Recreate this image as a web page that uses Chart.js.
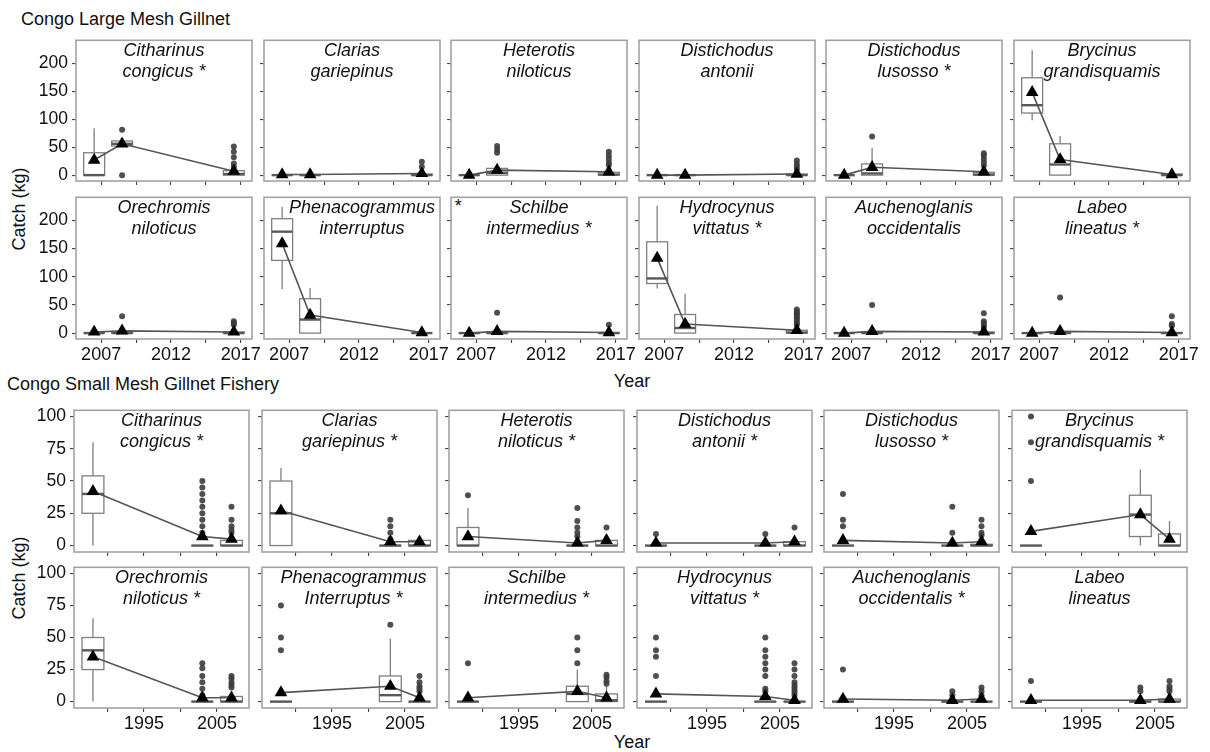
<!doctype html>
<html lang="en">
<head>
  <meta charset="utf-8">
  <title>Congo gillnet catch by year</title>
  <script src="https://cdn.jsdelivr.net/npm/chart.js"></script>
  <style>
    body { margin: 0; background: #fff; font-family: "Liberation Sans", Arial, sans-serif; color: #111; }
    #wrap { position: relative; width: 1210px; height: 752px; overflow: hidden; }
    #wrap canvas { position: absolute; }
    .txt { position: absolute; font-size: 18px; line-height: 18px; white-space: nowrap; }
    .sp { position: absolute; font-size: 18px; font-style: italic; text-align: center; line-height: 20.7px; white-space: nowrap; width: 220px; }
    .ylab { position: absolute; font-size: 18px; line-height: 18px; width: 120px; height: 18px; text-align: center; transform: rotate(-90deg); }
  </style>
</head>
<body>
<div id="wrap">
  <div class="txt" style="left:21px;top:10px">Congo Large Mesh Gillnet</div>
  <div class="txt" style="left:7px;top:375px">Congo Small Mesh Gillnet Fishery</div>
  <div class="txt" style="left:600px;width:64px;text-align:center;top:372px">Year</div>
  <div class="txt" style="left:600px;width:64px;text-align:center;top:733px">Year</div>
  <div class="ylab" style="left:-41px;top:200px">Catch (kg)</div>
  <div class="ylab" style="left:-41px;top:569px">Catch (kg)</div>
  <div class="txt" style="left:454px;top:197px;font-style:italic">*</div>
</div>
<script>
  // ---- data: Congo Large Mesh Gillnet (sampling years 2006, 2008, 2016) ----
  var largeYears = [2006.5, 2008.5, 2016.5];
  var largeXTicks = [2007, 2009.5, 2012, 2014.5, 2017];
  var largeXLabels = [2007, 2012, 2017];
  var largeYTicks = [0, 50, 100, 150, 200];
  var largeSpecies = [
    ["Citharinus", "congicus *"], ["Clarias", "gariepinus"], ["Heterotis", "niloticus"],
    ["Distichodus", "antonii"], ["Distichodus", "lusosso *"], ["Brycinus", "grandisquamis"],
    ["Orechromis", "niloticus"], ["Phenacogrammus", "interruptus"], ["Schilbe", "intermedius *"],
    ["Hydrocynus", "vittatus *"], ["Auchenoglanis", "occidentalis"], ["Labeo", "lineatus *"]
  ];
  var largeMeans = [
    [27, 56, 7], [1, 1, 3], [0, 9, 6], [0, 0, 2], [0, 14, 6], [148, 28, 1],
    [2, 4, 2], [159, 32, 1], [0, 3, 1], [133, 16, 5], [0, 3, 2], [0, 3, 1]
  ];
  // [low whisker, q1, median, q3, high whisker]
  var largeBoxes = [
    [[0, 0, 0, 40, 84], [50, 52, 56, 61, 64], [0, 0, 2, 8, 14]],
    [[0, 0, 0, 0, 0], [0, 0, 0, 0, 0], [0, 0, 0, 2, 5]],
    [[0, 0, 0, 0, 0], [0, 0, 4, 12, 12], [0, 0, 1, 5, 12]],
    [[0, 0, 0, 0, 0], [0, 0, 0, 0, 0], [0, 0, 0, 2, 4]],
    [[0, 0, 0, 0, 0], [0, 0, 3, 20, 49], [0, 0, 1, 5, 10]],
    [[98, 111, 125, 174, 223], [0, 0, 19, 56, 70], [0, 0, 0, 2, 3]],
    [[0, 0, 0, 0, 0], [0, 0, 0, 1, 2], [0, 0, 0, 2, 4]],
    [[78, 129, 180, 203, 224], [0, 0, 24, 61, 80], [0, 0, 0, 0, 0]],
    [[0, 0, 0, 0, 0], [0, 0, 0, 2, 4], [0, 0, 0, 1, 2]],
    [[79, 88, 97, 162, 226], [0, 0, 9, 33, 70], [0, 0, 1, 5, 10]],
    [[0, 0, 0, 0, 0], [0, 0, 0, 2, 4], [0, 0, 0, 2, 4]],
    [[0, 0, 0, 0, 0], [0, 0, 0, 2, 4], [0, 0, 0, 1, 3]]
  ];
  var largeOutliers = [
    [[], [81, 0], [51, 42, 32, 21, 15]],
    [[], [], [24, 15]],
    [[], [52, 46, 40], [42, 35, 29, 22, 18]],
    [[], [], [26, 20, 15, 10]],
    [[], [69], [39, 35, 29, 23, 17]],
    [[], [], []],
    [[], [30], [21, 18, 15]],
    [[], [], []],
    [[], [36], [15]],
    [[], [], [42, 38, 35, 32, 29, 26, 22, 18, 15]],
    [[], [50], [35, 21, 18, 14, 10]],
    [[], [63], [30, 16, 13]]
  ];

  // ---- data: Congo Small Mesh Gillnet Fishery (sampling years 1988, 2003, 2007) ----
  var smallYears = [1988, 2003, 2007];
  var smallXTicks = [1990, 1995, 2000, 2005];
  var smallXLabels = [1995, 2005];
  var smallYTicks = [0, 25, 50, 75, 100];
  var smallSpecies = [
    ["Citharinus", "congicus *"], ["Clarias", "gariepinus *"], ["Heterotis", "niloticus *"],
    ["Distichodus", "antonii *"], ["Distichodus", "lusosso *"], ["Brycinus", "grandisquamis *"],
    ["Orechromis", "niloticus *"], ["Phenacogrammus", "Interruptus *"], ["Schilbe", "intermedius *"],
    ["Hydrocynus", "vittatus *"], ["Auchenoglanis", "occidentalis *"], ["Labeo", "lineatus"]
  ];
  var smallMeans = [
    [42, 7, 5], [27, 3, 3], [7, 2, 4], [2, 2, 3], [4, 2, 3], [11, 24, 5],
    [35, 3, 3], [7, 12, 3], [3, 8, 3], [6, 4, 1], [2, 1, 2], [1, 1, 2]
  ];
  var smallBoxes = [
    [[0, 25, 40, 54, 80], [0, 0, 0, 0, 0], [0, 0, 0, 4, 8]],
    [[0, 0, 25, 50, 60], [0, 0, 0, 0, 0], [0, 0, 0, 4, 6]],
    [[0, 0, 0, 14, 29], [0, 0, 0, 0, 0], [0, 0, 0, 4, 8]],
    [[0, 0, 0, 0, 0], [0, 0, 0, 0, 0], [0, 0, 0, 3, 6]],
    [[0, 0, 0, 0, 0], [0, 0, 0, 0, 0], [0, 0, 0, 1, 3]],
    [[0, 0, 0, 0, 0], [0, 7, 24, 39, 59], [0, 0, 0, 9, 19]],
    [[0, 25, 40, 50, 65], [0, 0, 0, 0, 0], [0, 0, 0, 4, 8]],
    [[0, 0, 0, 0, 0], [0, 0, 5, 20, 49], [0, 0, 0, 0, 0]],
    [[0, 0, 0, 0, 0], [0, 0, 6, 12, 25], [0, 0, 1, 6, 12]],
    [[0, 0, 0, 0, 0], [0, 0, 0, 0, 0], [0, 0, 0, 0, 0]],
    [[0, 0, 0, 0, 0], [0, 0, 0, 0, 0], [0, 0, 0, 0, 0]],
    [[0, 0, 0, 0, 0], [0, 0, 0, 0, 0], [0, 0, 0, 2, 4]]
  ];
  var smallOutliers = [
    [[], [50, 45, 40, 35, 30, 25, 20, 15, 10], [30, 20, 15, 12, 10]],
    [[], [20, 15, 10, 5], []],
    [[39], [29, 19, 14, 10, 7], [14]],
    [[9], [9], [14]],
    [[40, 20, 15], [30, 10], [20, 15, 10, 8]],
    [[100, 80, 50], [], []],
    [[], [30, 26, 20, 15, 10, 5], [20, 18, 15, 13, 11]],
    [[75, 50, 40], [60], [20, 15, 12, 10, 8]],
    [[30], [50, 40, 30], [21, 19, 16, 14]],
    [[50, 40, 35, 20], [50, 40, 35, 30, 25, 20, 10, 8], [30, 25, 20, 15, 13, 11, 9, 7, 5]],
    [[25], [8, 5], [11, 8, 5]],
    [[16], [11, 8], [16, 12, 10, 8]]
  ];

  // ---- layout ----
  var FONT = '"Liberation Sans", Arial, sans-serif';
  var L = 50, T = 4, R = 16, B = 30;   // canvas margins round each panel

  var boxPlugin = {
    id: 'boxes',
    beforeDatasetsDraw: function(chart, args, o) {
      var ctx = chart.ctx, x = chart.scales.x, y = chart.scales.y;
      ctx.save();
      o.boxes.forEach(function(b, i) {
        var xc = x.getPixelForValue(o.years[i]);
        var x0 = x.getPixelForValue(o.years[i] - o.width / 2);
        var x1 = x.getPixelForValue(o.years[i] + o.width / 2);
        var p = b.map(function(v) { return y.getPixelForValue(v); });
        ctx.strokeStyle = '#7f7f7f';
        ctx.lineWidth = 1.3;
        ctx.beginPath();
        ctx.moveTo(xc, p[4]); ctx.lineTo(xc, p[3]);
        ctx.moveTo(xc, p[1]); ctx.lineTo(xc, p[0]);
        ctx.stroke();
        ctx.fillStyle = '#fff';
        ctx.fillRect(x0, p[3], x1 - x0, p[1] - p[3]);
        ctx.strokeRect(x0, p[3], x1 - x0, p[1] - p[3]);
        ctx.strokeStyle = '#595959';
        ctx.lineWidth = 2.4;
        ctx.beginPath(); ctx.moveTo(x0, p[2]); ctx.lineTo(x1, p[2]); ctx.stroke();
      });
      ctx.restore();
    },
    afterDatasetsDraw: function(chart) {
      var ctx = chart.ctx, a = chart.chartArea;
      ctx.save();
      ctx.strokeStyle = '#a3a3a3';
      ctx.lineWidth = 1.6;
      ctx.strokeRect(a.left, a.top, a.right - a.left, a.bottom - a.top);
      ctx.restore();
    }
  };

  function makePanel(left, top, w, h, cfg) {
    var wrap = document.getElementById('wrap');
    var cv = document.createElement('canvas');
    cv.width = L + w + R;
    cv.height = T + h + B;
    cv.style.left = (left - L) + 'px';
    cv.style.top = (top - T) + 'px';
    wrap.appendChild(cv);

    var sp = document.createElement('div');
    sp.className = 'sp';
    sp.style.left = (left + w / 2 - 110 + (cfg.nudge || 0)) + 'px';
    sp.style.top = (top + 3) + 'px';
    sp.innerHTML = cfg.title[0] + '<br>' + cfg.title[1];
    wrap.appendChild(sp);

    var outPts = [];
    cfg.outliers.forEach(function(list, i) {
      list.forEach(function(v) { outPts.push({x: cfg.years[i], y: v}); });
    });

    new Chart(cv, {
      type: 'scatter',
      data: {
        datasets: [
          {
            type: 'line',
            data: cfg.years.map(function(yr, i) { return {x: yr, y: cfg.means[i]}; }),
            borderColor: '#555',
            borderWidth: 1.6,
            pointStyle: 'triangle',
            pointRadius: 7.3,
            pointBackgroundColor: '#000',
            pointBorderWidth: 0,
            tension: 0
          },
          {
            data: outPts,
            pointRadius: 3,
            pointBackgroundColor: 'rgba(60,60,60,0.9)',
            pointBorderWidth: 0
          }
        ]
      },
      options: {
        responsive: false,
        animation: false,
        devicePixelRatio: 1,
        layout: {padding: {left: 0, top: T, right: R, bottom: 0}},
        plugins: {
          legend: {display: false},
          tooltip: {enabled: false},
          boxes: {boxes: cfg.boxes, years: cfg.years, width: cfg.boxW}
        },
        scales: {
          x: {
            type: 'linear', min: cfg.xMin, max: cfg.xMax,
            afterBuildTicks: function(s) { s.ticks = cfg.xTicks.map(function(v) { return {value: v}; }); },
            afterFit: function(s) { s.height = B; s.paddingLeft = 0; s.paddingRight = 0; },
            ticks: {
              callback: function(v) { return cfg.showX && cfg.xLabels.indexOf(v) >= 0 ? String(v) : ''; },
              color: '#111', font: {family: FONT, size: 18}, padding: 1, maxRotation: 0, autoSkip: false
            },
            grid: {drawOnChartArea: false, tickLength: 4, color: '#444', lineWidth: 1.1},
            border: {display: false}
          },
          y: {
            min: cfg.yMin, max: cfg.yMax,
            afterBuildTicks: function(s) { s.ticks = cfg.yTicks.map(function(v) { return {value: v}; }); },
            afterFit: function(s) { s.width = L; s.paddingTop = 0; s.paddingBottom = 0; },
            ticks: {
              callback: function(v) { return cfg.showY ? String(v) : ''; },
              color: '#111', font: {family: FONT, size: 17.5}, padding: 4
            },
            grid: {drawOnChartArea: false, tickLength: 4, color: '#444', lineWidth: 1.1},
            border: {display: false}
          }
        }
      },
      plugins: [boxPlugin]
    });
  }

  var largeCols = [76, 264, 451, 639, 826, 1014];
  var largeRows = [[37, 144], [194, 145]];
  var smallCols = [74, 262, 449, 637, 824, 1012];
  var smallRows = [[407, 145], [564, 144]];

  for (var i = 0; i < 12; i++) {
    var c = i % 6, r = Math.floor(i / 6);
    makePanel(largeCols[c], largeRows[r][0], 176, largeRows[r][1], {
      title: largeSpecies[i], nudge: i === 7 ? 10 : 0,
      years: largeYears, means: largeMeans[i], boxes: largeBoxes[i], outliers: largeOutliers[i],
      boxW: 1.5, xMin: 2005.2, xMax: 2017.8, yMin: -10.5, yMax: 241,
      xTicks: largeXTicks, xLabels: largeXLabels, yTicks: largeYTicks,
      showX: r === 1, showY: c === 0
    });
    makePanel(smallCols[c], smallRows[r][0], 175, smallRows[r][1], {
      title: smallSpecies[i], nudge: i === 7 ? 4 : 0,
      years: smallYears, means: smallMeans[i], boxes: smallBoxes[i], outliers: smallOutliers[i],
      boxW: 3, xMin: 1985.4, xMax: 2009.4, yMin: -5, yMax: 104.8,
      xTicks: smallXTicks, xLabels: smallXLabels, yTicks: smallYTicks,
      showX: r === 1, showY: c === 0
    });
  }
</script>
</body>
</html>
